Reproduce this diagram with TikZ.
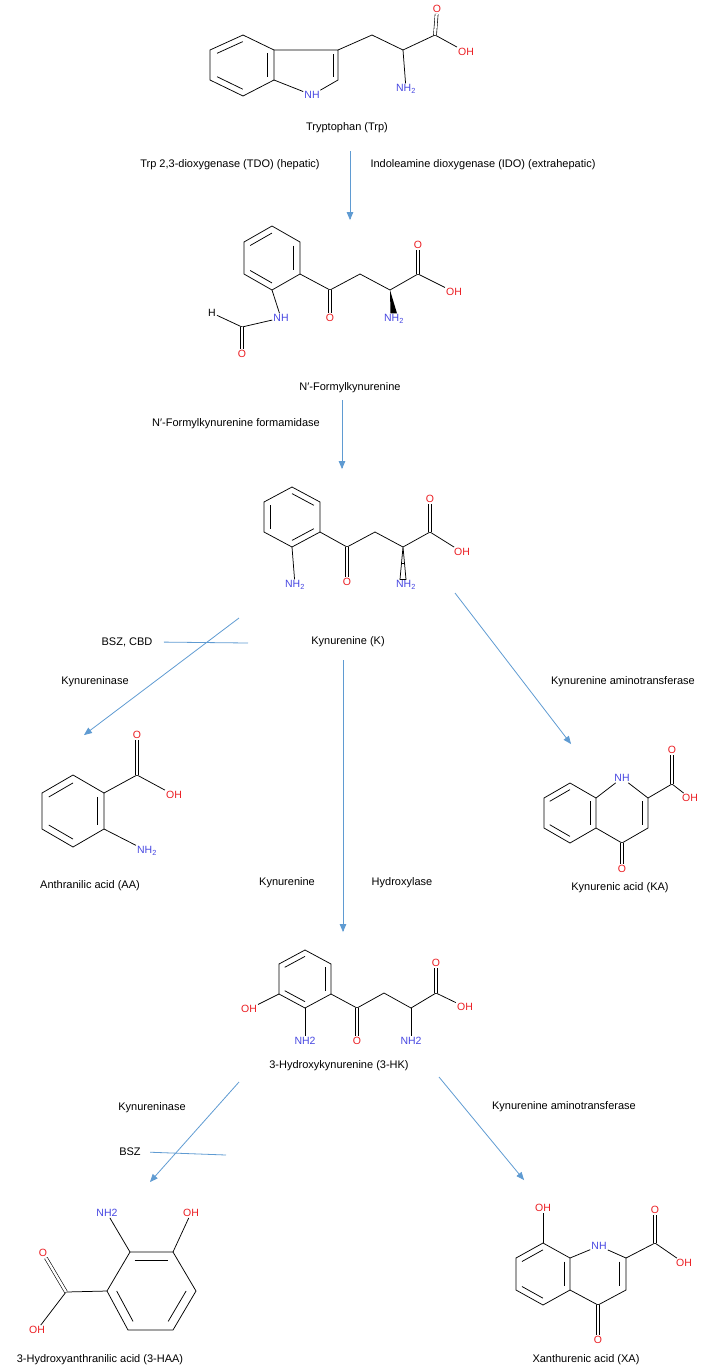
\documentclass[tikz,border=0pt]{standalone}
\usepackage{fontspec}
\setmainfont{Liberation Sans}
\usetikzlibrary{arrows,calc,positioning}
\definecolor{oxred}{RGB}{235,30,35}
\definecolor{nblue}{RGB}{70,70,225}
\definecolor{flowblue}{RGB}{95,155,210}
% inner line of an aromatic double bond: ring vertices #1,#2, ring centre #3
\newcommand\ringdb[3]{\draw[bond] ($(#1)!0.22!(#3)$) -- ($(#2)!0.22!(#3)$);}
\tikzset{
  bond/.style = {line width=0.75pt, black},
  dbond/.style = {bond, double, double distance=2.4pt, line width=0.6pt},
  atom/.style = {inner sep=1pt, font=\fontsize{10.5}{11}\selectfont},
  oxy/.style = {atom, text=oxred},
  nit/.style = {atom, text=nblue},
  molname/.style = {font=\fontsize{11}{13}\selectfont},
  enz/.style = {font=\fontsize{11}{13}\selectfont},
  flow/.style = {draw=flowblue, line width=0.8pt, -triangle 45},
  inhib/.style = {draw=flowblue, line width=0.8pt}
}
\begin{document}
\begin{tikzpicture}[x=1pt, y=-1pt]
\useasboundingbox (0,0) rectangle (710,1369);

% Tryptophan
\coordinate (t1) at (243,35); \coordinate (t2) at (274,50); \coordinate (t3) at (274,80);
\coordinate (t4) at (243,96); \coordinate (t5) at (210,80); \coordinate (t6) at (210,50);
\coordinate (tc) at (242,65); \coordinate (t7) at (338,50); \coordinate (t8) at (338,80);
\coordinate (t9) at (372,35); \coordinate (t10) at (403,50); \coordinate (t11) at (435,35);
\node[nit] (tnh) at (312,95) {NH};
\node[oxy] (to) at (437,9) {O};
\node[oxy] (toh) at (466,52) {OH};
\node[nit] (tnh2) at (406,89) {NH\textsubscript{2}};
\draw[bond] (t1) -- (t2) -- (t3) -- (t4) -- (t5) -- (t6) -- cycle;
\ringdb{t6}{t1}{tc} \ringdb{t2}{t3}{tc} \ringdb{t4}{t5}{tc}
\draw[bond] (t2) -- (t7) -- (t8) -- (tnh) -- (t3);
\draw[bond] ($(t7)+(-5,4)$) -- ($(t8)+(-5,-3)$);
\draw[bond] (t7) -- (t9) -- (t10) -- (t11) -- (toh);
\draw[dbond] (t11) -- (to);
\draw[bond] (t10) -- (tnh2);
\node[molname] (trp) at (347,128) {Tryptophan (Trp)};

\node[enz] (tdo) at (230,165) {Trp 2,3-dioxygenase (TDO) (hepatic)};
\node[enz] (ido) at (483,165) {Indoleamine dioxygenase (IDO) (extrahepatic)};
\coordinate (a1s) at (350,151); \coordinate (a1e) at (350,220);
\draw[flow] (a1s) -- (a1e);

% N'-Formylkynurenine
\coordinate (f1) at (272,226); \coordinate (f2) at (300,242); \coordinate (f3) at (300,274);
\coordinate (f4) at (272,290); \coordinate (f5) at (244,274); \coordinate (f6) at (244,242);
\coordinate (fc) at (272,258);
\coordinate (fk) at (330,290); \coordinate (fm) at (360,274); \coordinate (fa) at (390,290);
\coordinate (fx) at (418,274); \coordinate (fh) at (242,327);
\node[nit] (fnh) at (281,318) {NH};
\node[atom] (fhh) at (212,313) {H};
\node[oxy] (fo1) at (242,354) {O};
\node[oxy] (fo2) at (330,318) {O};
\node[nit] (fnh2) at (394,319) {NH\textsubscript{2}};
\node[oxy] (fo3) at (418,245) {O};
\node[oxy] (foh) at (454,292) {OH};
\draw[bond] (f1) -- (f2) -- (f3) -- (f4) -- (f5) -- (f6) -- cycle;
\ringdb{f2}{f3}{fc} \ringdb{f4}{f5}{fc} \ringdb{f6}{f1}{fc}
\draw[bond] (f4) -- (fnh) -- (fh) -- (fhh);
\draw[dbond] (fh) -- (fo1);
\draw[bond] (f3) -- (fk) -- (fm) -- (fa) -- (fx) -- (foh);
\draw[dbond] (fk) -- (fo2);
\draw[dbond] (fx) -- (fo3);
\fill (fa) -- ($(fnh2.north)+(-3.5,0)$) -- ($(fnh2.north)+(3,0)$) -- cycle;
\node[molname] (fkyn) at (350,388) {N′-Formylkynurenine};

\node[enz] (fmd) at (236,424) {N′-Formylkynurenine formamidase};
\coordinate (a2s) at (342,400); \coordinate (a2e) at (342,469);
\draw[flow] (a2s) -- (a2e);

% Kynurenine
\coordinate (k1) at (292,487); \coordinate (k2) at (320,502); \coordinate (k3) at (320,532);
\coordinate (k4) at (292,547); \coordinate (k5) at (264,532); \coordinate (k6) at (264,502);
\coordinate (kc) at (292,517);
\coordinate (kk) at (347,547); \coordinate (km) at (375,532); \coordinate (ka) at (403,547);
\coordinate (kx) at (430,532);
\node[nit] (knh2a) at (295,585) {NH\textsubscript{2}};
\node[oxy] (ko1) at (347,582) {O};
\node[nit] (knh2b) at (406,585) {NH\textsubscript{2}};
\node[oxy] (ko2) at (430,499) {O};
\node[oxy] (koh) at (462,552) {OH};
\draw[bond] (k1) -- (k2) -- (k3) -- (k4) -- (k5) -- (k6) -- cycle;
\ringdb{k5}{k6}{kc} \ringdb{k1}{k2}{kc} \ringdb{k3}{k4}{kc}
\draw[bond] (k4) -- (knh2a);
\draw[bond] (k3) -- (kk) -- (km) -- (ka) -- (kx) -- (koh);
\draw[dbond] (kk) -- (ko1);
\draw[dbond] (kx) -- (ko2);
\draw[bond] (ka) -- ($(knh2b.north)+(-6,0)$) -- ($(knh2b.north)+(0,0)$) -- cycle;
\draw[bond] ($(ka)!0.5!(knh2b.north)+(-3,0)$) -- ($(ka)!0.5!(knh2b.north)+(0,0)$);
\node[molname] (kyn) at (348,642) {Kynurenine (K)};

\node[enz] (bszcbd) at (127,642) {BSZ, CBD};
\coordinate (bszcbde) at (248,643);
\draw[inhib, shorten <=8pt] (bszcbd.east) -- (bszcbde);
\node[enz] (kase1) at (95,682) {Kynureninase};
\coordinate (a3s) at (239,618); \coordinate (a3e) at (84,735);
\draw[flow] (a3s) -- (a3e);
\coordinate (a4s) at (455,593); \coordinate (a4e) at (571,744);
\draw[flow] (a4s) -- (a4e);
\node[enz] (kat1) at (623,682) {Kynurenine aminotransferase};
\coordinate (a5s) at (343,660); \coordinate (a5e) at (343,932);
\draw[flow] (a5s) -- (a5e);
\node[enz] (khl) at (287,883) {Kynurenine};
\node[enz] (khr) at (402,883) {Hydroxylase};

% Anthranilic acid
\coordinate (n1) at (73,775); \coordinate (n2) at (104,793); \coordinate (n3) at (104,829);
\coordinate (n4) at (73,847); \coordinate (n5) at (42,829); \coordinate (n6) at (42,793);
\coordinate (nc) at (73,811); \coordinate (nx) at (137,775);
\node[oxy] (no) at (137,735) {O};
\node[oxy] (noh) at (174,795) {OH};
\node[nit] (nnh2) at (147,851) {NH\textsubscript{2}};
\draw[bond] (n1) -- (n2) -- (n3) -- (n4) -- (n5) -- (n6) -- cycle;
\ringdb{n2}{n3}{nc} \ringdb{n6}{n1}{nc} \ringdb{n4}{n5}{nc}
\draw[bond] (n2) -- (nx) -- (noh);
\draw[dbond] (nx) -- (no);
\draw[bond] (n3) -- (nnh2);
\node[molname] (aa) at (90,886) {Anthranilic acid (AA)};

% Kynurenic acid
\coordinate (q1) at (570,783); \coordinate (q2) at (596,798); \coordinate (q3) at (596,828);
\coordinate (q4) at (570,843); \coordinate (q5) at (544,828); \coordinate (q6) at (544,798);
\coordinate (qc) at (570,813); \coordinate (rc) at (622,813);
\coordinate (r2) at (648,798); \coordinate (r3) at (648,828); \coordinate (r4) at (622,843);
\coordinate (rx) at (672,784);
\node[nit] (qnh) at (622,778) {NH};
\node[oxy] (qo1) at (622,869) {O};
\node[oxy] (qo2) at (672,750) {O};
\node[oxy] (qoh) at (690,798) {OH};
\draw[bond] (q1) -- (q2) -- (q3) -- (q4) -- (q5) -- (q6) -- cycle;
\ringdb{q6}{q1}{qc} \ringdb{q4}{q5}{qc} \ringdb{q2}{q3}{qc}
\draw[bond] (q2) -- (qnh) -- (r2) -- (r3) -- (r4) -- (q3);
\ringdb{r2}{r3}{rc}
\draw[dbond] (r4) -- (qo1);
\draw[bond] (r2) -- (rx) -- (qoh);
\draw[dbond] (rx) -- (qo2);
\node[molname] (kyna) at (620,888) {Kynurenic acid (KA)};

% 3-Hydroxykynurenine
\coordinate (h1) at (305,950); \coordinate (h2) at (331,964); \coordinate (h3) at (331,994);
\coordinate (h4) at (305,1008); \coordinate (h5) at (279,994); \coordinate (h6) at (279,964);
\coordinate (hc) at (305,979);
\coordinate (hk) at (357,1008); \coordinate (hm) at (384,993); \coordinate (ha) at (411,1008);
\coordinate (hx) at (436,993);
\node[oxy] (hoh1) at (249,1009) {OH};
\node[nit] (hnh2a) at (305,1041) {NH2};
\node[oxy] (ho1) at (357,1041) {O};
\node[nit] (hnh2b) at (411,1041) {NH2};
\node[oxy] (ho2) at (436,963) {O};
\node[oxy] (hoh2) at (465,1007) {OH};
\draw[bond] (h1) -- (h2) -- (h3) -- (h4) -- (h5) -- (h6) -- cycle;
\ringdb{h2}{h3}{hc} \ringdb{h4}{h5}{hc} \ringdb{h6}{h1}{hc}
\draw[bond] (h5) -- (hoh1);
\draw[bond] (h4) -- (hnh2a);
\draw[bond] (h3) -- (hk) -- (hm) -- (ha) -- (hx) -- (hoh2);
\draw[dbond] (hk) -- (ho1);
\draw[dbond] (hx) -- (ho2);
\draw[bond] (ha) -- (hnh2b);
\node[molname] (hk3) at (339,1066) {3-Hydroxykynurenine (3-HK)};

\coordinate (a6s) at (239,1082); \coordinate (a6e) at (150,1182);
\draw[flow] (a6s) -- (a6e);
\node[enz] (kase2) at (152,1108) {Kynureninase};
\node[enz] (bsz) at (130,1152) {BSZ};
\coordinate (bsze) at (226,1155);
\draw[inhib, shorten <=6pt] (bsz.east) -- (bsze);
\coordinate (a7s) at (439,1077); \coordinate (a7e) at (524,1180);
\draw[flow] (a7s) -- (a7e);
\node[enz] (kat2) at (564,1107) {Kynurenine aminotransferase};

% 3-Hydroxyanthranilic acid
\coordinate (p1) at (130,1252); \coordinate (p2) at (173,1252); \coordinate (p3) at (196,1291);
\coordinate (p4) at (173,1330); \coordinate (p5) at (128,1330); \coordinate (p6) at (107,1291);
\coordinate (pc) at (151,1291); \coordinate (px) at (66,1292);
\node[nit] (pnh2) at (107,1213) {NH2};
\node[oxy] (poh1) at (191,1213) {OH};
\node[oxy] (po) at (43,1253) {O};
\node[oxy] (poh2) at (37,1330) {OH};
\draw[bond] (p1) -- (p2) -- (p3) -- (p4) -- (p5) -- (p6) -- cycle;
\ringdb{p1}{p2}{pc} \ringdb{p3}{p4}{pc} \ringdb{p5}{p6}{pc}
\draw[bond] (p1) -- (pnh2);
\draw[bond] (p2) -- (poh1);
\draw[bond] (p6) -- (px) -- (poh2);
\draw[dbond] (px) -- (po);
\node[molname] (haa) at (100,1360) {3-Hydroxyanthranilic acid (3-HAA)};

% Xanthurenic acid
\coordinate (x1) at (543,1243); \coordinate (x2) at (570,1258); \coordinate (x3) at (570,1290);
\coordinate (x4) at (543,1305); \coordinate (x5) at (516,1290); \coordinate (x6) at (516,1258);
\coordinate (xc) at (543,1274); \coordinate (yc) at (598,1274);
\coordinate (y2) at (626,1258); \coordinate (y3) at (626,1290); \coordinate (y4) at (598,1305);
\coordinate (yx) at (655,1243);
\node[nit] (xnh) at (599,1246) {NH};
\node[oxy] (xoh1) at (543,1208) {OH};
\node[oxy] (xo1) at (598,1340) {O};
\node[oxy] (xo2) at (655,1210) {O};
\node[oxy] (xoh2) at (684,1263) {OH};
\draw[bond] (x1) -- (x2) -- (x3) -- (x4) -- (x5) -- (x6) -- cycle;
\ringdb{x6}{x1}{xc} \ringdb{x4}{x5}{xc} \ringdb{x2}{x3}{xc}
\draw[bond] (x2) -- (xnh) -- (y2) -- (y3) -- (y4) -- (x3);
\ringdb{y2}{y3}{yc}
\draw[bond] (x1) -- (xoh1);
\draw[dbond] (y4) -- (xo1);
\draw[bond] (y2) -- (yx) -- (xoh2);
\draw[dbond] (yx) -- (xo2);
\node[molname] (xa) at (586,1360) {Xanthurenic acid (XA)};
\end{tikzpicture}
\end{document}
